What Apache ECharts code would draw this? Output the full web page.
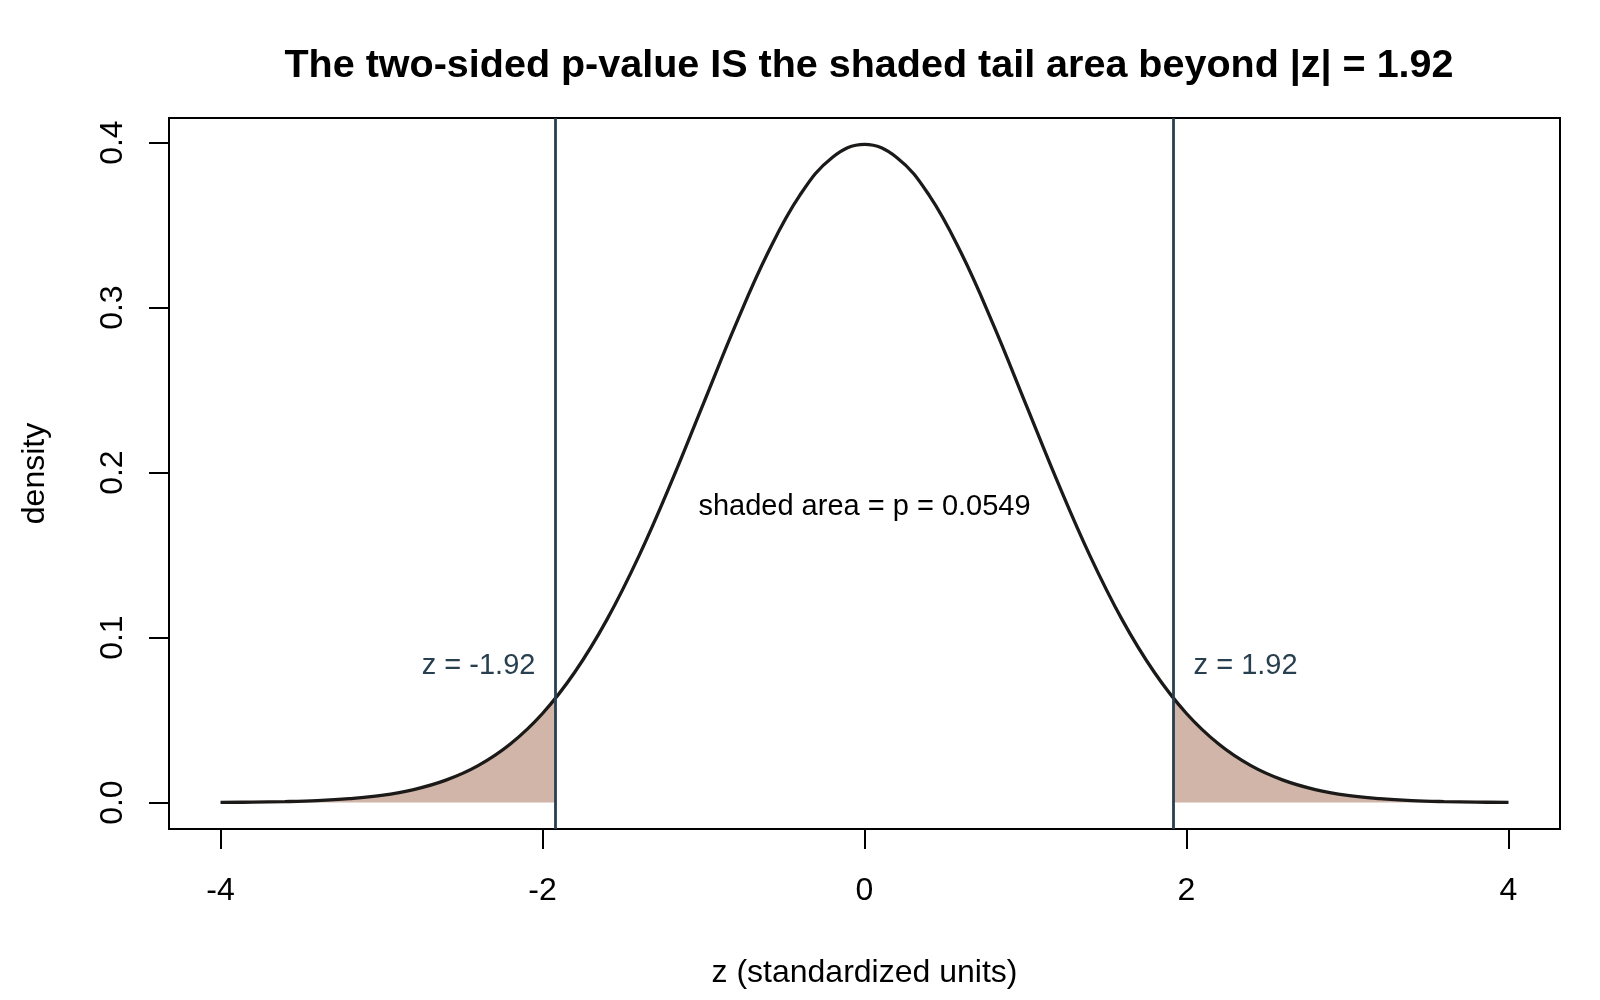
<!DOCTYPE html>
<html>
<head>
<meta charset="utf-8">
<title>two-sided p-value</title>
<script src="https://cdn.jsdelivr.net/npm/echarts@6/dist/echarts.min.js"></script>
<style>
  html, body { margin: 0; padding: 0; background: #fff; }
  #main { width: 1600px; height: 1000px; }
</style>
</head>
<body>
<div id="main"></div>
<script>
// standard normal density
var zGrid = [-4, -3.8, -3.6, -3.4, -3.2, -3, -2.8, -2.6, -2.4, -2.2, -2, -1.8, -1.6, -1.4, -1.2, -1, -0.8, -0.6, -0.4, -0.2,
  0, 0.2, 0.4, 0.6, 0.8, 1, 1.2, 1.4, 1.6, 1.8, 2, 2.2, 2.4, 2.6, 2.8, 3, 3.2, 3.4, 3.6, 3.8, 4];
var density = [0.0001, 0.0003, 0.0006, 0.0012, 0.0024, 0.0044, 0.0079, 0.0136, 0.0224, 0.0355, 0.0540, 0.0790, 0.1109, 0.1497, 0.1942, 0.2420, 0.2897, 0.3332, 0.3683, 0.3910,
  0.3989, 0.3910, 0.3683, 0.3332, 0.2897, 0.2420, 0.1942, 0.1497, 0.1109, 0.0790, 0.0540, 0.0355, 0.0224, 0.0136, 0.0079, 0.0044, 0.0024, 0.0012, 0.0006, 0.0003, 0.0001];

// shaded tails beyond |z| = 1.92
var leftTailZ = [-4, -3.8, -3.6, -3.4, -3.2, -3, -2.8, -2.6, -2.4, -2.2, -2, -1.92];
var leftTailD = [0.0001, 0.0003, 0.0006, 0.0012, 0.0024, 0.0044, 0.0079, 0.0136, 0.0224, 0.0355, 0.0540, 0.0632];
var rightTailZ = [1.92, 2, 2.2, 2.4, 2.6, 2.8, 3, 3.2, 3.4, 3.6, 3.8, 4];
var rightTailD = [0.0632, 0.0540, 0.0355, 0.0224, 0.0136, 0.0079, 0.0044, 0.0024, 0.0012, 0.0006, 0.0003, 0.0001];

var zCrit = 1.92;
var pValue = '0.0549';
var xTicks = [-4, -2, 0, 2, 4];
var yTicks = [0, 0.1, 0.2, 0.3, 0.4];

function pairs(xs, ys) {
  return xs.map(function (x, i) { return [x, ys[i]]; });
}

var font = 'Liberation Sans, Arial, sans-serif';
var slate = '#283f50';

var chart = echarts.init(document.getElementById('main'));
var option = {
  animation: false,
  backgroundColor: '#fff',
  title: {
    text: 'The two-sided p-value IS the shaded tail area beyond |z| = ' + zCrit,
    left: 864,
    top: 41,
    textAlign: 'center',
    textStyle: { fontFamily: font, fontSize: 39.5, fontWeight: 'bold', color: '#000' }
  },
  grid: {
    left: 169, right: 40, top: 118, bottom: 171,
    show: true, borderColor: '#000', borderWidth: 2
  },
  xAxis: {
    type: 'value',
    min: -4.32, max: 4.32,
    name: 'z (standardized units)',
    nameLocation: 'middle',
    nameGap: 128,
    nameTextStyle: { fontFamily: font, fontSize: 32, color: '#000' },
    axisLine: { show: false, onZero: false },
    axisTick: { show: true, inside: false, length: 20, customValues: xTicks, lineStyle: { color: '#000', width: 2 } },
    axisLabel: { customValues: xTicks, margin: 46, fontFamily: font, fontSize: 32, color: '#000' },
    splitLine: { show: false }
  },
  yAxis: {
    type: 'value',
    min: -0.016, max: 0.4149,
    name: 'density',
    nameLocation: 'middle',
    nameGap: 118,
    nameTextStyle: { fontFamily: font, fontSize: 32, color: '#000' },
    axisLine: { show: false, onZero: false },
    axisTick: { show: true, inside: false, length: 20, customValues: yTicks, lineStyle: { color: '#000', width: 2 } },
    axisLabel: {
      customValues: yTicks, rotate: 90, margin: 40,
      fontFamily: font, fontSize: 32, color: '#000',
      formatter: function (v) { return v.toFixed(1); }
    },
    splitLine: { show: false }
  },
  series: [
    {
      type: 'line', name: 'left tail',
      data: pairs(leftTailZ, leftTailD),
      showSymbol: false, smooth: 0.4,
      lineStyle: { width: 0 },
      areaStyle: { color: '#d0b5a8', opacity: 1 }
    },
    {
      type: 'line', name: 'right tail',
      data: pairs(rightTailZ, rightTailD),
      showSymbol: false, smooth: 0.4,
      lineStyle: { width: 0 },
      areaStyle: { color: '#d0b5a8', opacity: 1 }
    },
    {
      type: 'line', name: 'density',
      data: pairs(zGrid, density),
      showSymbol: false, smooth: 0.4,
      lineStyle: { color: '#1c1a19', width: 3.3 },
      markLine: {
        silent: true, symbol: 'none',
        label: { show: false },
        lineStyle: { color: slate, width: 2.8, type: 'solid' },
        data: [{ xAxis: -zCrit }, { xAxis: zCrit }]
      },
      z: 3
    },
    {
      type: 'scatter', name: 'labels',
      symbolSize: 0,
      silent: true,
      itemStyle: { opacity: 1 },
      data: [
        { value: [-zCrit, 0.083], label: { position: 'left', formatter: 'z = -' + zCrit } },
        { value: [zCrit, 0.083], label: { position: 'right', formatter: 'z = ' + zCrit } },
        { value: [0, 0.179], label: { position: 'inside', color: '#000', formatter: 'shaded area = p = ' + pValue } }
      ],
      label: { show: true, distance: 20, fontFamily: font, fontSize: 29, color: slate },
      z: 4
    }
  ]
};
chart.setOption(option);
</script>
</body>
</html>
